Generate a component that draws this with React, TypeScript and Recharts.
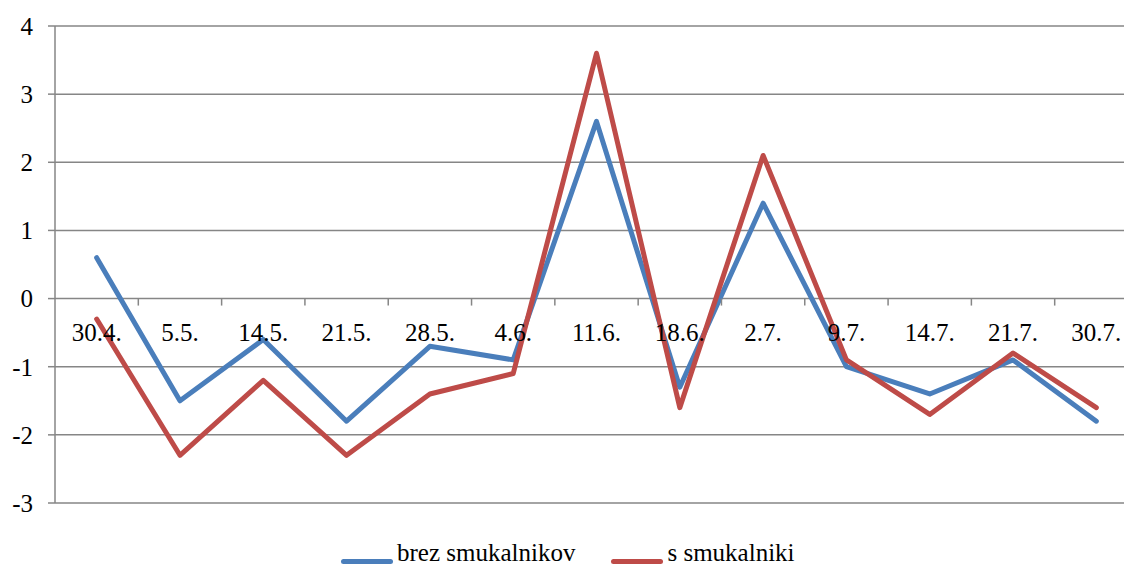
import React from 'react';
import { LineChart, Line, XAxis, YAxis, CartesianGrid, Legend } from 'recharts';

const categories = ['30.4.', '5.5.', '14.5.', '21.5.', '28.5.', '4.6.', '11.6.', '18.6.', '2.7.', '9.7.', '14.7.', '21.7.', '30.7.'];
const brezSmukalnikov = [0.6, -1.5, -0.6, -1.8, -0.7, -0.9, 2.6, -1.3, 1.4, -1.0, -1.4, -0.9, -1.8];
const sSmukalniki = [-0.3, -2.3, -1.2, -2.3, -1.4, -1.1, 3.6, -1.6, 2.1, -0.9, -1.7, -0.8, -1.6];
const yTicks = [-3, -2, -1, 0, 1, 2, 3, 4];
const seriesNames = ['brez smukalnikov', 's smukalniki'];
const Y_MIN = -3;
const Y_MAX = 4;

const data = categories.map((c, i) => ({ date: c, a: brezSmukalnikov[i], b: sSmukalniki[i] }));

const FONT = '"Liberation Serif", "Times New Roman", serif';
const GRID = '#868686';
const BLUE = '#4A7EBB';
const RED = '#BE4B48';

const CHART_W = 1140;
const CHART_H = 567;
const M_TOP = 26;
const M_BOTTOM = 63;
const M_RIGHT = 2;
const Y_W = 55;
const X_H = 1;
const PLOT_W = CHART_W - Y_W - M_RIGHT;
const PLOT_H = CHART_H - M_TOP - M_BOTTOM - X_H;
const HALF = PLOT_W / categories.length / 2;
const Y0 = M_TOP + (Y_MAX / (Y_MAX - Y_MIN)) * PLOT_H;

const XTick = (props: any) => {
  const { x, payload } = props;
  return (
    <g>
      <line x1={x + HALF} x2={x + HALF} y1={Y0} y2={Y0 + 7} stroke={GRID} strokeWidth={1.5} />
      <text x={x} y={Y0 + 42} textAnchor="middle" fontSize={25} fontFamily={FONT} fill="#000">
        {payload.value}
      </text>
    </g>
  );
};

const renderLegend = (props: any) => {
  const items = props.payload || [];
  return (
    <div style={{ display: 'flex', flexDirection: 'row', fontFamily: FONT, fontSize: 25, lineHeight: '25px', color: '#000', whiteSpace: 'nowrap', width: 470, height: 27 }}>
      {items.map((it: any, i: number) => (
        <div key={i} style={{ display: 'flex', alignItems: 'flex-start', marginRight: i === 0 ? 36 : 0 }}>
          <span style={{ display: 'inline-block', width: 52, height: 5, borderRadius: 3, background: it.color, marginTop: 19, marginRight: 4 }} />
          <span style={{ fontFamily: FONT }}>{it.value}</span>
        </div>
      ))}
    </div>
  );
};

export default function App() {
  return (
    <div style={{ position: 'absolute', left: 0, top: 0, width: 1124, height: 567, overflow: 'hidden', background: '#fff' }}>
      <LineChart width={CHART_W} height={CHART_H} data={data} margin={{ top: M_TOP, right: M_RIGHT, bottom: M_BOTTOM, left: 0 }}>
        <CartesianGrid vertical={false} stroke={GRID} strokeWidth={1.5} />
        <XAxis
          dataKey="date"
          height={X_H}
          axisLine={false}
          tickLine={false}
          interval={0}
          padding={{ left: HALF, right: HALF }}
          tick={<XTick />}
        />
        <YAxis
          domain={[Y_MIN, Y_MAX]}
          ticks={yTicks}
          interval={0}
          width={Y_W}
          axisLine={{ stroke: GRID, strokeWidth: 1.5 }}
          tickLine={{ stroke: GRID, strokeWidth: 1.5 }}
          tickSize={7}
          tickMargin={15}
          tick={{ fontSize: 25, fontFamily: FONT, fill: '#000' }}
        />
        <Line
          type="linear"
          dataKey="a"
          name={seriesNames[0]}
          stroke={BLUE}
          strokeWidth={5}
          strokeLinejoin="round"
          strokeLinecap="round"
          dot={false}
          activeDot={false}
          isAnimationActive={false}
        />
        <Line
          type="linear"
          dataKey="b"
          name={seriesNames[1]}
          stroke={RED}
          strokeWidth={5}
          strokeLinejoin="round"
          strokeLinecap="round"
          dot={false}
          activeDot={false}
          isAnimationActive={false}
        />
        <Legend
          layout="horizontal"
          verticalAlign="middle"
          align="center"
          content={renderLegend}
          wrapperStyle={{ top: 540, left: 341, width: 470, height: 27 }}
        />
      </LineChart>
    </div>
  );
}
